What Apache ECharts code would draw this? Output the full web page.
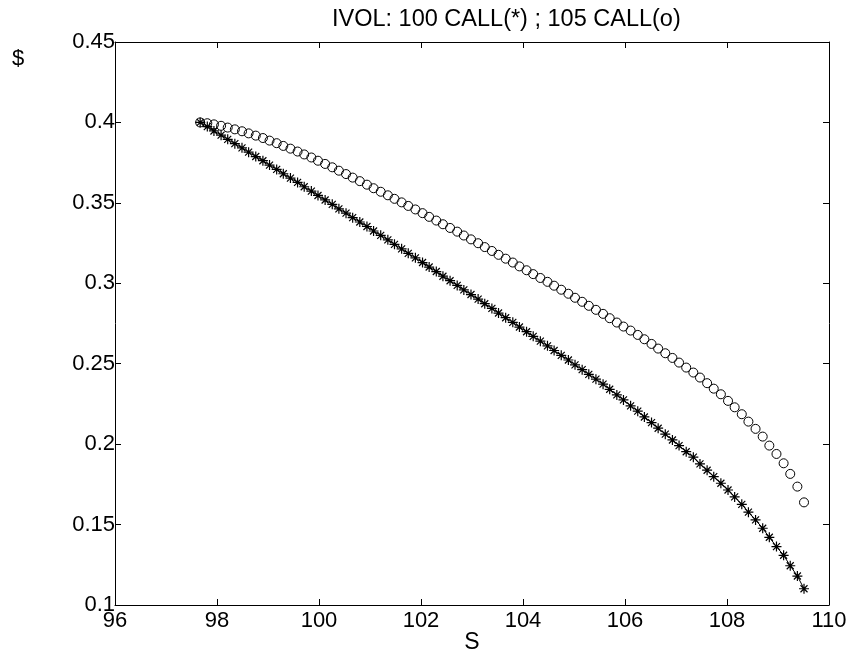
<!DOCTYPE html>
<html>
<head>
<meta charset="utf-8">
<script src="https://cdn.jsdelivr.net/npm/echarts@6/dist/echarts.min.js"></script>
<style>
html,body{margin:0;padding:0;background:#fff;}
#c{width:858px;height:656px;}
</style>
</head>
<body>
<div id="c"></div>
<script>
// Underlying price S (x values, shared by both series)
const S = [97.67,97.81,97.94,98.08,98.21,98.35,98.49,98.62,98.76,98.90,
99.03,99.17,99.30,99.44,99.58,99.71,99.85,99.98,100.12,100.26,
100.39,100.53,100.66,100.80,100.94,101.07,101.21,101.35,101.48,101.62,
101.75,101.89,102.03,102.16,102.30,102.43,102.57,102.71,102.84,102.98,
103.12,103.25,103.39,103.52,103.66,103.80,103.93,104.07,104.20,104.34,
104.48,104.61,104.75,104.89,105.02,105.16,105.29,105.43,105.57,105.70,
105.84,105.97,106.11,106.25,106.38,106.52,106.65,106.79,106.93,107.06,
107.20,107.34,107.47,107.61,107.74,107.88,108.02,108.15,108.29,108.42,
108.56,108.70,108.83,108.97,109.11,109.24,109.38,109.51];

// IVOL of the 100 CALL (*)
const call100 = [0.4000,0.3974,0.3947,0.3921,0.3895,0.3868,0.3842,0.3815,0.3788,0.3762,
0.3735,0.3708,0.3681,0.3654,0.3627,0.3600,0.3573,0.3546,0.3518,0.3491,
0.3463,0.3436,0.3408,0.3381,0.3353,0.3325,0.3298,0.3270,0.3242,0.3214,
0.3186,0.3158,0.3129,0.3101,0.3073,0.3044,0.3016,0.2987,0.2959,0.2930,
0.2902,0.2873,0.2844,0.2815,0.2786,0.2757,0.2728,0.2699,0.2670,0.2640,
0.2611,0.2582,0.2552,0.2523,0.2493,0.2463,0.2434,0.2404,0.2373,0.2341,
0.2306,0.2275,0.2238,0.2205,0.2169,0.2134,0.2099,0.2062,0.2026,0.1991,
0.1953,0.1919,0.1877,0.1838,0.1798,0.1757,0.1715,0.1672,0.1626,0.1577,
0.1529,0.1477,0.1421,0.1363,0.1309,0.1244,0.1180,0.1101];

// IVOL of the 105 CALL (o)
const call105 = [0.4000,0.3995,0.3988,0.3979,0.3968,0.3957,0.3945,0.3932,0.3918,0.3903,
0.3887,0.3871,0.3854,0.3837,0.3819,0.3801,0.3782,0.3762,0.3742,0.3721,
0.3700,0.3679,0.3657,0.3635,0.3613,0.3591,0.3569,0.3547,0.3525,0.3503,
0.3481,0.3459,0.3436,0.3413,0.3390,0.3367,0.3344,0.3321,0.3297,0.3273,
0.3249,0.3225,0.3201,0.3177,0.3153,0.3129,0.3105,0.3081,0.3057,0.3033,
0.3009,0.2985,0.2960,0.2935,0.2910,0.2885,0.2860,0.2835,0.2810,0.2783,
0.2756,0.2731,0.2706,0.2679,0.2652,0.2623,0.2594,0.2565,0.2536,0.2507,
0.2476,0.2445,0.2414,0.2379,0.2345,0.2310,0.2269,0.2229,0.2186,0.2140,
0.2095,0.2047,0.1991,0.1939,0.1881,0.1815,0.1736,0.1638];

const titleText = 'IVOL: 100 CALL(*) ; 105 CALL(o)';
const xName = 'S';
const yName = '$';

const FONT = '"Liberation Sans", Arial, Helvetica, sans-serif';
const chart = echarts.init(document.getElementById('c'), null, {renderer: 'canvas'});

const starData = S.map((s, i) => [s, call100[i]]);
const circData = S.map((s, i) => [s, call105[i]]);

const axisCommon = {
  axisLine: {show: true, lineStyle: {color: '#000', width: 1}},
  axisTick: {show: true, inside: true, length: 6, lineStyle: {color: '#000', width: 1}},
  splitLine: {show: false}
};

chart.setOption({
  animation: false,
  backgroundColor: '#fff',
  title: {
    text: titleText,
    left: 327, top: 3,
    textStyle: {fontFamily: FONT, fontSize: 23.5, fontWeight: 'normal', color: '#000'}
  },
  grid: {left: 115, right: 29, top: 42, bottom: 51, containLabel: false, outerBoundsMode: 'none'},
  xAxis: [
    Object.assign({
      type: 'value', position: 'bottom', min: 96, max: 110, interval: 2,
      name: xName, nameLocation: 'middle', nameGap: 26, nameMoveOverlap: false,
      nameTextStyle: {fontFamily: FONT, fontSize: 23, color: '#000'},
      axisLabel: {fontFamily: FONT, fontSize: 22, color: '#000', margin: 5}
    }, axisCommon),
    Object.assign({
      type: 'value', position: 'top', min: 96, max: 110, interval: 2,
      axisLabel: {show: false}
    }, axisCommon)
  ],
  yAxis: [
    Object.assign({
      type: 'value', position: 'left', min: 0.1, max: 0.45, interval: 0.05,
      axisLabel: {fontFamily: FONT, fontSize: 22, color: '#000', margin: 0}
    }, axisCommon),
    Object.assign({
      type: 'value', position: 'right', min: 0.1, max: 0.45, interval: 0.05,
      axisLabel: {show: false}
    }, axisCommon)
  ],
  graphic: [{
    type: 'text', left: 12, top: 48,
    style: {text: yName, font: '22px ' + FONT, fill: '#000'}
  }],
  series: [
    {
      type: 'line',
      data: circData,
      symbol: 'circle',
      symbolSize: 9,
      showSymbol: true,
      showAllSymbol: true,
      lineStyle: {width: 0, opacity: 0},
      itemStyle: {color: 'rgba(255,255,255,0)', borderColor: '#000', borderWidth: 1},
      z: 2
    },
    {
      type: 'line',
      data: starData,
      symbol: 'path://M5 0L5 10M0 5L10 5M1.5 1.5L8.5 8.5M1.5 8.5L8.5 1.5',
      symbolSize: 10,
      showSymbol: true,
      showAllSymbol: true,
      lineStyle: {color: '#000', width: 1},
      itemStyle: {color: '#000', borderColor: '#000', borderWidth: 1.2},
      z: 3
    }
  ]
});
</script>
</body>
</html>
